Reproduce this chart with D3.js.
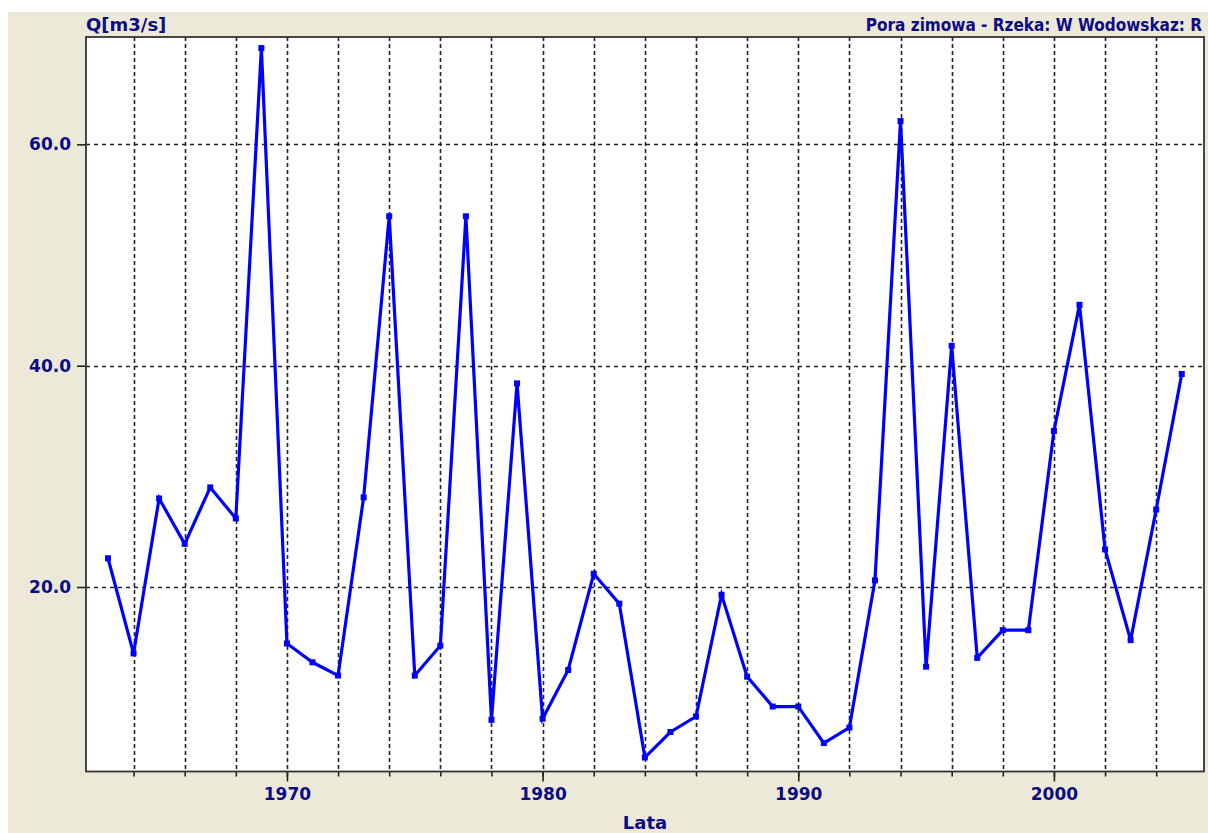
<!DOCTYPE html>
<html><head><meta charset="utf-8">
<script src="https://cdn.jsdelivr.net/npm/d3@7"></script>
<style>
html,body{margin:0;padding:0;background:#fff;}
svg{display:block;}
text{font-family:"DejaVu Sans",Verdana,sans-serif;font-weight:bold;fill:#0c0c84;}
</style></head>
<body>
<svg id="c" width="1208" height="833"></svg>
<script>
const years = [1963,1964,1965,1966,1967,1968,1969,1970,1971,1972,1973,1974,1975,1976,1977,1978,1979,1980,1981,1982,1983,1984,1985,1986,1987,1988,1989,1990,1991,1992,1993,1994,1995,1996,1997,1998,1999,2000,2001,2002,2003,2004,2005];
const flows = [22.6,14.0,28.0,23.9,29.0,26.2,68.7,14.9,13.2,12.0,28.1,53.5,12.0,14.7,53.5,8.0,38.4,8.1,12.5,21.2,18.5,4.6,6.9,8.3,19.3,11.9,9.2,9.2,5.9,7.3,20.6,62.1,12.8,41.8,13.6,16.1,16.1,34.1,45.5,23.4,15.2,27.0,39.25];
const xGridYears = [1964,1966,1968,1970,1972,1974,1976,1978,1980,1982,1984,1986,1988,1990,1992,1994,1996,1998,2000,2002,2004];
const xLabelYears = [1970,1980,1990,2000];
const yTicks = [20,40,60];
const yAxisTitle = "Q[m3/s]";
const chartTitle = "Pora zimowa - Rzeka: W Wodowskaz: R";
const xAxisTitle = "Lata";

const svg = d3.select("#c");
const L = 86, T = 37, R = 1204, B = 771.5;
svg.append("rect").attr("x",8).attr("y",12).attr("width",1200).attr("height",821).attr("fill","#ECE9D8");

const x = d3.scaleLinear().domain([1962.14, 2005.87]).range([L, R]);
const y = d3.scaleLinear().domain([3.33, 69.7]).range([B, T]);

svg.append("rect").attr("x",L).attr("y",T).attr("width",R-L).attr("height",B-T).attr("fill","#fff");

// grid
const g = svg.append("g");
g.selectAll(".vg").data(xGridYears).join("line")
  .attr("x1",d=>Math.round(x(d))+0.5).attr("x2",d=>Math.round(x(d))+0.5)
  .attr("y1",T).attr("y2",B)
  .attr("stroke","#222").attr("stroke-width",1.6).attr("stroke-dasharray","4,3");
g.selectAll(".hg").data(yTicks).join("line")
  .attr("x1",L).attr("x2",R)
  .attr("y1",d=>Math.round(y(d))+0.5).attr("y2",d=>Math.round(y(d))+0.5)
  .attr("stroke","#222").attr("stroke-width",1.6).attr("stroke-dasharray","4,4");

// axes
const xAxis = d3.axisBottom(x).tickValues(xGridYears).tickSize(5).tickFormat("");
svg.append("g").attr("transform",`translate(0,${B})`).call(xAxis)
  .call(s=>{s.select(".domain").remove(); s.selectAll("line").attr("stroke","#222").attr("stroke-width",1.6);});
const xAxisMaj = d3.axisBottom(x).tickValues(xLabelYears).tickSize(10).tickPadding(6).tickFormat(d3.format("d"));
svg.append("g").attr("transform",`translate(0,${B})`).call(xAxisMaj)
  .call(s=>{s.select(".domain").remove(); s.selectAll("line").attr("stroke","#222").attr("stroke-width",1.6);
    s.selectAll("text").attr("font-size",17).attr("fill","#0c0c84").attr("font-family","DejaVu Sans").attr("font-weight","bold");});
const yAxis = d3.axisLeft(y).tickValues(yTicks).tickSize(9).tickPadding(6).tickFormat(d3.format(".1f"));
svg.append("g").attr("transform",`translate(${L},0)`).call(yAxis)
  .call(s=>{s.select(".domain").remove(); s.selectAll("line").attr("stroke","#222").attr("stroke-width",1.6);
    s.selectAll("text").attr("font-size",17).attr("fill","#0c0c84").attr("font-family","DejaVu Sans").attr("font-weight","bold");});

// border
svg.append("rect").attr("x",L).attr("y",T).attr("width",R-L).attr("height",B-T)
  .attr("fill","none").attr("stroke","#333").attr("stroke-width",1.8);

// series
const pts = years.map((yr,i)=>[yr,flows[i]]);
svg.append("path").datum(pts)
  .attr("d", d3.line().x(d=>x(d[0])).y(d=>y(d[1])))
  .attr("fill","none").attr("stroke","#0000ff").attr("stroke-width",3.2).attr("stroke-linejoin","miter");
svg.selectAll(".pt").data(pts).join("rect")
  .attr("x",d=>x(d[0])-3).attr("y",d=>y(d[1])-3).attr("width",6).attr("height",6).attr("fill","#0000ff");

// titles
svg.append("text").attr("x",L).attr("y",31).attr("font-size",18).text(yAxisTitle);
svg.append("text").attr("x",1202).attr("y",31).attr("font-size",17)
  .attr("font-family","'DejaVu Sans Condensed','DejaVu Sans',sans-serif").attr("font-stretch","condensed")
  .attr("text-anchor","end").text(chartTitle);
svg.append("text").attr("x",(L+R)/2).attr("y",829).attr("font-size",18).attr("text-anchor","middle").text(xAxisTitle);
</script>
</body></html>
